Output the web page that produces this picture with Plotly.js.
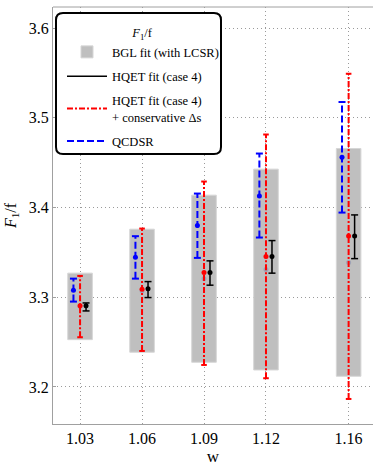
<!DOCTYPE html>
<html>
<head>
<meta charset="utf-8">
<script src="https://cdn.plot.ly/plotly-3.0.1.min.js"></script>
<style>html,body{margin:0;padding:0;background:#fff;}#chart{width:373px;height:466px;}</style>
</head>
<body>
<div id="chart"></div>
<script>
// ---- data ----
const w = [1.03, 1.06, 1.09, 1.12, 1.16];
const tickLabels = ["1.03", "1.06", "1.09", "1.12", "1.16"];
const yTicks = [3.2, 3.3, 3.4, 3.5, 3.6];
const yTickLabels = ["3.2", "3.3", "3.4", "3.5", "3.6"];

// BGL fit (with LCSR) band
const bglLow  = [3.2527, 3.2387, 3.2275, 3.2189, 3.2119];
const bglHigh = [3.3268, 3.3758, 3.4137, 3.4427, 3.4657];
const bglCentral = [3.2898, 3.3073, 3.3206, 3.3308, 3.3388];

// HQET fit (case 4)
const hqetCentral = [3.2906, 3.3095, 3.3274, 3.3453, 3.3683];
const hqetLow  = [3.2847, 3.2996, 3.3134, 3.3268, 3.3430];
const hqetHigh = [3.2936, 3.3174, 3.3405, 3.3631, 3.3917];

// HQET fit (case 4) + conservative Δs
const consCentral = [3.2906, 3.3090, 3.3274, 3.3453, 3.3683];
const consLow  = [3.2554, 3.2401, 3.2245, 3.2097, 3.1866];
const consHigh = [3.3237, 3.3765, 3.4289, 3.4813, 3.5490];

// QCDSR
const qcdCentral = [3.3078, 3.3446, 3.3798, 3.4129, 3.4561];
const qcdLow  = [3.2951, 3.3207, 3.3438, 3.3665, 3.3943];
const qcdHigh = [3.3207, 3.3680, 3.4155, 3.4601, 3.5175];

// ---- styling / helpers ----
const SERIF = "Liberation Serif, Times New Roman, serif";
const OFF_QCD = -0.0032, OFF_HQET = 0.0029, OFF_CONS = 0.0;
const BAR_W = 0.0119;

function segs(xs, off, lo, hi) {
  const x = [], y = [];
  xs.forEach((v, i) => { x.push(v + off, v + off, null); y.push(lo[i], hi[i], null); });
  return {x, y};
}
function caps(xs, off, lo, hi) {
  const x = [], y = [];
  xs.forEach((v, i) => { x.push(v + off, v + off); y.push(lo[i], hi[i]); });
  return {x, y};
}
const shift = (xs, off) => xs.map(v => v + off);

const traces = [];
traces.push({
  type: 'bar', name: 'BGL fit (with LCSR)', x: w,
  base: bglLow, y: bglHigh.map((h, i) => h - bglLow[i]),
  width: BAR_W, marker: {color: '#bfbfbf', line: {color: '#d6d6d6', width: 1}},
  hoverinfo: 'skip', legendgroup: 'a'
});
traces.push({
  type: 'scatter', mode: 'markers', x: w, y: bglCentral, showlegend: false,
  marker: {color: '#9ea3b6', size: 5}, hoverinfo: 'skip'
});

function addSeries(name, off, lo, hi, cen, color, width, dash, capSize, group) {
  const s = segs(w, off, lo, hi);
  traces.push({type: 'scatter', mode: 'lines', name: name, x: s.x, y: s.y,
    line: {color: color, width: width, dash: dash}, legendgroup: group, hoverinfo: 'skip'});
  const c = caps(w, off, lo, hi);
  traces.push({type: 'scatter', mode: 'markers', x: c.x, y: c.y, showlegend: false,
    marker: {symbol: 'line-ew', size: capSize, line: {color: color, width: width}}, hoverinfo: 'skip'});
  traces.push({type: 'scatter', mode: 'markers', x: shift(w, off), y: cen, showlegend: false,
    marker: {color: color, size: 5}, hoverinfo: 'skip'});
}

addSeries('HQET fit (case 4)', OFF_HQET, hqetLow, hqetHigh, hqetCentral, '#000000', 1.5, 'solid', 5, 'b');
addSeries('HQET fit (case 4)<br>+ conservative Δs', OFF_CONS, consLow, consHigh, consCentral, '#ff0000', 2, '6px,2px,2px,2px', 4, 'c');
addSeries('QCDSR', OFF_QCD, qcdLow, qcdHigh, qcdCentral, '#0000ff', 2, '7px,3px', 5, 'd');

// legend frame (rounded) in paper coords
const L = 53, R = 0, T = 7, B = 42, W = 373, H = 466;
const pw = W - L - R, ph = H - T - B;
const px = v => (v - L) / pw, py = v => (H - B - v) / ph;
const bx0 = px(56), bx1 = px(221), by0 = py(154), by1 = py(13);
const rx = 7 / pw, ry = 7 / ph;
const path = `M ${bx0 + rx},${by1} L ${bx1 - rx},${by1} Q ${bx1},${by1} ${bx1},${by1 - ry} ` +
  `L ${bx1},${by0 + ry} Q ${bx1},${by0} ${bx1 - rx},${by0} L ${bx0 + rx},${by0} ` +
  `Q ${bx0},${by0} ${bx0},${by0 + ry} L ${bx0},${by1 - ry} Q ${bx0},${by1} ${bx0 + rx},${by1} Z`;

const gridStyle = {showgrid: true, gridcolor: '#9a9a9a', gridwidth: 1, griddash: '1px,3px'};

const layout = {
  width: W, height: H,
  margin: {l: L, r: R, t: T, b: B, pad: 0},
  paper_bgcolor: '#ffffff', plot_bgcolor: '#ffffff',
  showlegend: true, barmode: 'overlay',
  font: {family: SERIF, color: '#000'},
  xaxis: Object.assign({
    range: [1.0169, 1.1718], tickmode: 'array', tickvals: w, ticktext: tickLabels,
    showline: true, linecolor: '#a0a0a0', linewidth: 1, zeroline: false,
    ticks: '',
    tickfont: {family: SERIF, size: 16, color: '#000'},
    title: {text: 'w', font: {family: SERIF, size: 17, color: '#000'}, standoff: 7}
  }, gridStyle),
  yaxis: Object.assign({
    range: [3.1587, 3.6234], tickmode: 'array', tickvals: yTicks, ticktext: yTickLabels,
    showline: true, linecolor: '#a0a0a0', linewidth: 1, zeroline: false,
    ticks: 'inside', ticklen: 3, tickcolor: '#a0a0a0',
    tickfont: {family: SERIF, size: 16, color: '#000'},
    title: {text: '<i>F</i><sub>1</sub>/f', font: {family: SERIF, size: 16, color: '#000'}, standoff: 8}
  }, gridStyle),
  legend: {
    x: px(62), y: py(21), xanchor: 'left', yanchor: 'top',
    bgcolor: 'rgba(0,0,0,0)', borderwidth: 0,
    font: {family: SERIF, size: 12.5, color: '#000'},
    title: {text: '<i>F</i><sub>1</sub>/f', side: 'top center', font: {family: SERIF, size: 12.5, color: '#000'}},
    traceorder: 'grouped', tracegroupgap: 5, itemwidth: 40
  },
  shapes: [
    {type: 'line', xref: 'paper', yref: 'paper', x0: 0, x1: 1, y0: 1, y1: 1, line: {color: '#a0a0a0', width: 1}},
    {type: 'path', xref: 'paper', yref: 'paper', path: path, fillcolor: '#ffffff', layer: 'above', line: {color: '#000', width: 2}}
  ]
};

Plotly.newPlot('chart', traces, layout, {displayModeBar: false, staticPlot: true});
</script>
</body>
</html>
